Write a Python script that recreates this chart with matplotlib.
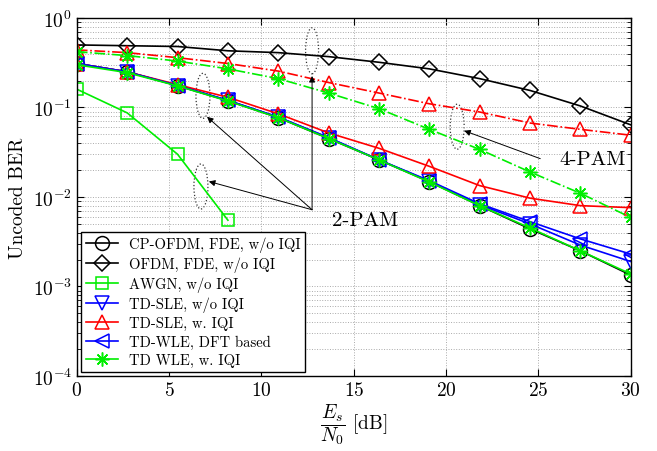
import numpy as np
import matplotlib
matplotlib.use("Agg")
import matplotlib.pyplot as plt
from matplotlib.patches import Ellipse
from matplotlib.transforms import ScaledTranslation
from matplotlib.ticker import LogLocator, NullFormatter

plt.rcParams["font.family"] = "cmr10"
plt.rcParams["mathtext.fontset"] = "cm"
plt.rcParams["axes.formatter.use_mathtext"] = True

# Es/N0 grid in dB
snr = np.linspace(0, 30, 12)

# 2-PAM curves
ber_cp_ofdm = [0.31, 0.25, 0.175, 0.119, 0.077, 0.045, 0.026, 0.0148, 0.0080, 0.0044, 0.0025, 0.00134]
ber_tdsle_noiqi = [0.31, 0.25, 0.176, 0.120, 0.078, 0.046, 0.026, 0.0150, 0.0082, 0.0050, 0.0029, 0.0019]
ber_tdsle_iqi = [0.31, 0.25, 0.18, 0.13, 0.085, 0.052, 0.035, 0.022, 0.0134, 0.0097, 0.0080, 0.0076]
ber_tdwle_dft = [0.31, 0.25, 0.176, 0.120, 0.078, 0.046, 0.026, 0.0152, 0.0084, 0.0053, 0.0034, 0.0023]
ber_tdwle_iqi = [0.30, 0.245, 0.174, 0.118, 0.077, 0.045, 0.026, 0.0147, 0.0080, 0.0045, 0.0025, 0.00138]
ber_awgn = [0.16, 0.087, 0.030, 0.0055]

# 4-PAM curves
ber_ofdm_fde = [0.50, 0.49, 0.48, 0.43, 0.41, 0.37, 0.32, 0.27, 0.21, 0.155, 0.104, 0.064]
ber_tdsle_iqi_4 = [0.44, 0.41, 0.36, 0.31, 0.255, 0.19, 0.145, 0.11, 0.089, 0.067, 0.057, 0.049]
ber_tdwle_iqi_4 = [0.42, 0.38, 0.33, 0.27, 0.21, 0.145, 0.097, 0.057, 0.034, 0.019, 0.011, 0.0059]

GREEN = "#00ee00"
mk = dict(markerfacecolor="none", markersize=10, markeredgewidth=1.1, linewidth=1.2)

fig = plt.figure(figsize=(6.57, 4.52), dpi=100)
ax = fig.add_axes([0.117, 0.166, 0.843, 0.792])

ax.semilogy(snr, ber_cp_ofdm, "k-", marker="o", label="CP-OFDM, FDE, w/o IQI", **mk)
ax.semilogy(snr, ber_ofdm_fde, "k-", marker="D", label="OFDM, FDE, w/o IQI",
            **{**mk, "markersize": 8.5})
ax.semilogy(snr[:len(ber_awgn)], ber_awgn, "-", color=GREEN, marker="s",
            label="AWGN, w/o IQI", **{**mk, "markersize": 9})
ax.semilogy(snr, ber_tdsle_noiqi, "b-", marker="v", label="TD-SLE, w/o IQI", **mk)
ax.semilogy(snr, ber_tdsle_iqi, "r-", marker="^", label="TD-SLE, w. IQI", **mk)
ax.semilogy(snr, ber_tdsle_iqi_4, "r-.", marker="^", **mk)
ax.semilogy(snr, ber_tdwle_dft, "b-", marker="<", label="TD-WLE, DFT based", **mk)
ax.semilogy(snr, ber_tdwle_iqi_4, "-.", color=GREEN, marker=(8, 2, 0), **mk)
ax.semilogy(snr, ber_tdwle_iqi, "-", color=GREEN, marker=(8, 2, 0),
            label="TD WLE, w. IQI", **mk)

ax.set_xlim(0, 30)
ax.set_ylim(1e-4, 1)
ax.set_xticks([0, 5, 10, 15, 20, 25, 30])
ax.yaxis.set_major_locator(LogLocator(base=10, numticks=10))
ax.yaxis.set_minor_locator(LogLocator(base=10, subs=np.arange(2, 10), numticks=20))
ax.yaxis.set_minor_formatter(NullFormatter())
ax.tick_params(which="both", direction="in", top=True, right=True, labelsize=14)
ax.tick_params(which="major", length=5)
ax.tick_params(which="minor", length=3)
ax.grid(True, which="major", linestyle=":", color="#aaaaaa", linewidth=0.7)
ax.grid(True, which="minor", axis="y", linestyle=":", color="#aaaaaa", linewidth=0.7)
for s in ax.spines.values():
    s.set_linewidth(1.0)

ax.set_ylabel("Uncoded BER", fontsize=14)
ax.set_xlabel(r"$\dfrac{E_s}{N_0}$ [dB]", fontsize=14, labelpad=2)

leg = ax.legend(loc="lower left", fontsize=10.5, fancybox=False, framealpha=1,
                edgecolor="black", borderaxespad=0.3, labelspacing=0.3,
                handlelength=2.2, borderpad=0.3)
leg.get_frame().set_linewidth(1.0)


def ring(x, y, w, h):
    # dotted ellipse sized in pixels, centred on a data point
    tr = fig.dpi_scale_trans + ScaledTranslation(x, y, ax.transData)
    ax.add_patch(Ellipse((0, 0), w / 100, h / 100, transform=tr, fill=False,
                         linestyle=":", edgecolor="#333333", linewidth=0.9,
                         clip_on=False))


ring(12.74, 0.43, 13, 46)
ring(6.83, 0.135, 14, 45)
ring(6.72, 0.0131, 14, 45)
ring(20.6, 0.061, 14, 45)

arrow = dict(arrowstyle="-|>", color="black", lw=0.7, mutation_scale=9,
             shrinkA=0, shrinkB=0)
hub = (12.74, 0.0072)
ax.annotate("", xy=(12.74, 0.225), xytext=hub, arrowprops=arrow)
ax.annotate("", xy=(7.05, 0.0787), xytext=hub, arrowprops=arrow)
ax.annotate("", xy=(7.15, 0.0149), xytext=hub, arrowprops=arrow)
ax.annotate("", xy=(20.98, 0.055), xytext=(25.1, 0.0268), arrowprops=arrow)

ax.text(15.6, 0.00546, "2-PAM", fontsize=15, ha="center", va="center")
ax.text(27.94, 0.0268, "4-PAM", fontsize=15, ha="center", va="center")

fig.savefig("out.png", dpi=100)
